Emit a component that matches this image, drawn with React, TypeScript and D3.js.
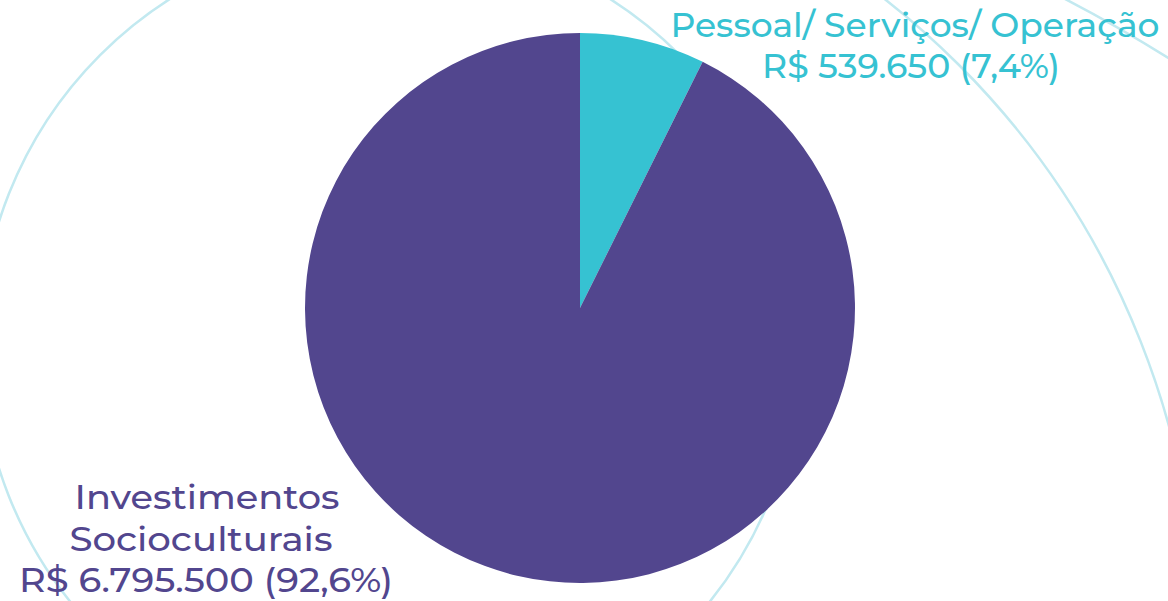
import { useEffect, useRef } from 'react'
import * as d3 from 'd3'

const categories = ['Pessoal/ Serviços/ Operação', 'Investimentos Socioculturais']
const labelLines = [['Pessoal/ Serviços/ Operação'], ['Investimentos', 'Socioculturais']]
const values = [539650, 6795500]
const colors = ['#36C2D2', '#52468E']

const width = 1168
const height = 601

const br = d3.formatLocale({ decimal: ',', thousands: '.', grouping: [3], currency: ['R$ ', ''] })
const money = br.format('$,.0f')
const pct = br.format('.1%')

export default function App() {
  const svgRef = useRef<SVGSVGElement>(null)

  useEffect(() => {
    if (!svgRef.current) return
    const svg = d3.select(svgRef.current)
    svg.selectAll('*').remove()

    const cx = 580
    const cy = 308
    const radius = 275
    const total = d3.sum(values)

    // decorative rings behind the chart
    const rings = [
      { x: 390, y: 345, r: 410 },
      { x: 382, y: 642, r: 816 },
      { x: 385, y: 1309, r: 1476 }
    ]
    svg.append('g')
      .selectAll('circle')
      .data(rings)
      .enter().append('circle')
      .attr('cx', d => d.x)
      .attr('cy', d => d.y)
      .attr('r', d => d.r)
      .attr('fill', 'none')
      .attr('stroke', '#C2E9F0')
      .attr('stroke-width', 2.5)

    const pie = d3.pie<number>().sort(null).value(d => d)
    const arc = d3.arc<d3.PieArcDatum<number>>().innerRadius(0).outerRadius(radius)

    const g = svg.append('g').attr('transform', `translate(${cx},${cy})`)
    g.selectAll('path')
      .data(pie(values))
      .enter().append('path')
      .attr('d', arc)
      .attr('fill', (_, i) => colors[i])

    const font = "Montserrat, 'DejaVu Sans', sans-serif"

    // label: small slice, top right
    const l0 = svg.append('text')
      .attr('font-family', font)
      .attr('font-size', 33)
      .attr('font-weight', 500)
      .attr('fill', colors[0])
      .attr('text-anchor', 'middle')
    l0.append('tspan').attr('x', 915).attr('y', 37)
      .attr('textLength', 489).attr('lengthAdjust', 'spacingAndGlyphs')
      .text(labelLines[0][0])
    l0.append('tspan').attr('x', 911).attr('y', 78)
      .attr('textLength', 298).attr('lengthAdjust', 'spacingAndGlyphs')
      .text(`${money(values[0])} (${pct(values[0] / total)})`)

    // label: big slice, bottom left
    const l1 = svg.append('text')
      .attr('font-family', font)
      .attr('font-size', 33)
      .attr('font-weight', 500)
      .attr('fill', colors[1])
      .attr('text-anchor', 'middle')
    const l1Lines = [
      { t: labelLines[1][0], x: 207, y: 509, w: 265 },
      { t: labelLines[1][1], x: 201, y: 551, w: 263 },
      { t: `${money(values[1])} (${pct(values[1] / total)})`, x: 206, y: 592, w: 374 }
    ]
    l1Lines.forEach(l => {
      l1.append('tspan').attr('x', l.x).attr('y', l.y)
        .attr('textLength', l.w).attr('lengthAdjust', 'spacingAndGlyphs')
        .text(l.t)
    })
    svg.append('title').text(categories.join(' / '))
  }, [])

  return (
    <svg
      ref={svgRef}
      width={width}
      height={height}
      style={{ position: 'absolute', left: 0, top: 0, background: '#fff' }}
    />
  )
}
